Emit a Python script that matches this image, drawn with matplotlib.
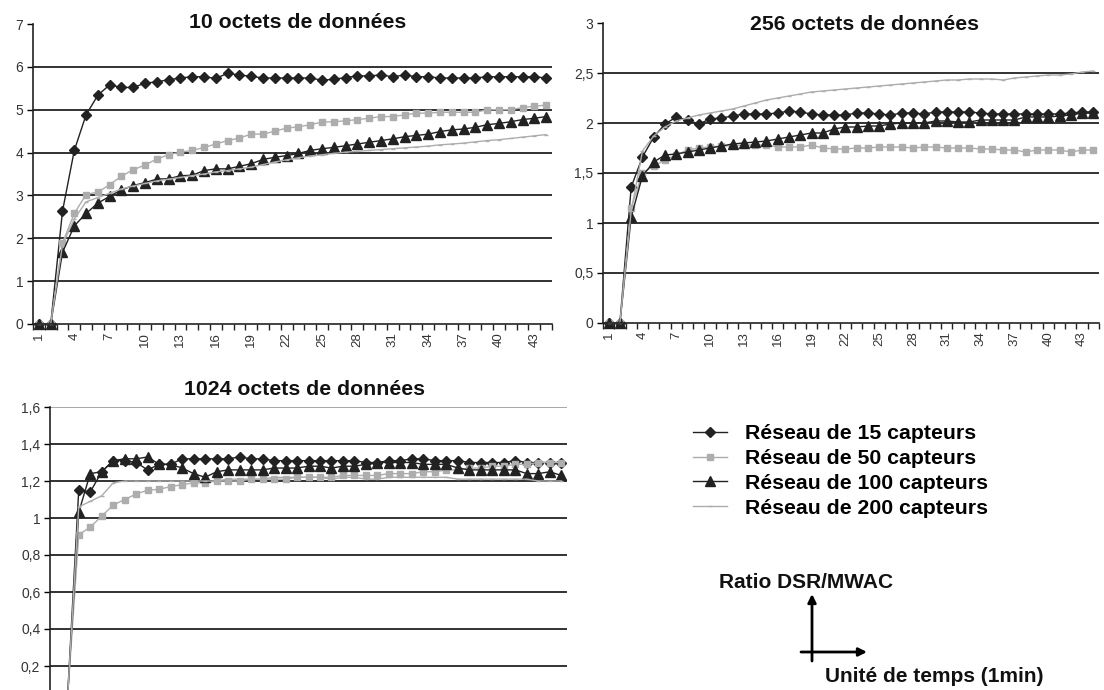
import matplotlib
matplotlib.use("Agg")
import matplotlib.pyplot as plt
from matplotlib.lines import Line2D
from matplotlib.ticker import FuncFormatter, FixedLocator

plt.rcParams["font.family"] = ["Liberation Sans", "DejaVu Sans"]

# series labels
labels = ["Réseau de 15 capteurs", "Réseau de 50 capteurs",
          "Réseau de 100 capteurs", "Réseau de 200 capteurs"]

# 10 octets de données (44 minutes)
s15_10 = [0, 0, 2.63, 4.05, 4.88, 5.34, 5.58, 5.52, 5.52, 5.62, 5.65, 5.70, 5.74, 5.77, 5.77,
          5.73, 5.85, 5.81, 5.78, 5.74, 5.74, 5.74, 5.74, 5.74, 5.69, 5.71, 5.75, 5.79, 5.79, 5.81,
          5.77, 5.81, 5.77, 5.77, 5.74, 5.74, 5.74, 5.74, 5.77, 5.77, 5.77, 5.77, 5.77, 5.74]
s50_10 = [0, 0, 1.89, 2.58, 3.02, 3.08, 3.25, 3.45, 3.60, 3.71, 3.85, 3.95, 4.01, 4.05, 4.12,
          4.20, 4.28, 4.34, 4.43, 4.43, 4.50, 4.57, 4.60, 4.65, 4.71, 4.72, 4.74, 4.77, 4.80, 4.84,
          4.84, 4.88, 4.92, 4.92, 4.94, 4.94, 4.94, 4.94, 5.00, 5.00, 5.00, 5.05, 5.08, 5.11]
s100_10 = [0, 0, 1.67, 2.29, 2.58, 2.82, 2.98, 3.13, 3.23, 3.30, 3.38, 3.39, 3.46, 3.47, 3.58,
           3.62, 3.62, 3.68, 3.74, 3.84, 3.89, 3.93, 3.98, 4.05, 4.09, 4.12, 4.16, 4.20, 4.24, 4.28,
           4.32, 4.37, 4.40, 4.43, 4.49, 4.53, 4.55, 4.59, 4.65, 4.68, 4.72, 4.77, 4.80, 4.84]
s200_10 = [0, 0, 1.85, 2.45, 2.85, 2.95, 3.05, 3.15, 3.22, 3.28, 3.34, 3.38, 3.42, 3.46, 3.50,
           3.55, 3.58, 3.62, 3.66, 3.72, 3.78, 3.83, 3.88, 3.92, 3.95, 3.98, 4.01, 4.03, 4.05, 4.07,
           4.09, 4.11, 4.13, 4.15, 4.18, 4.20, 4.22, 4.25, 4.28, 4.30, 4.33, 4.36, 4.39, 4.42]

# 256 octets de données (44 minutes)
s15_256 = [0, 0, 1.36, 1.66, 1.86, 1.99, 2.06, 2.03, 1.99, 2.04, 2.05, 2.07, 2.09, 2.09, 2.09,
           2.10, 2.12, 2.11, 2.09, 2.08, 2.08, 2.08, 2.10, 2.10, 2.09, 2.08, 2.10, 2.10, 2.09, 2.11,
           2.11, 2.11, 2.11, 2.10, 2.09, 2.09, 2.09, 2.09, 2.09, 2.09, 2.09, 2.10, 2.11, 2.11]
s50_256 = [0, 0, 1.15, 1.50, 1.57, 1.63, 1.68, 1.73, 1.75, 1.76, 1.77, 1.77, 1.78, 1.78, 1.78,
           1.76, 1.76, 1.76, 1.78, 1.75, 1.74, 1.74, 1.75, 1.75, 1.76, 1.76, 1.76, 1.75, 1.76, 1.76,
           1.75, 1.75, 1.75, 1.74, 1.74, 1.73, 1.73, 1.71, 1.73, 1.73, 1.73, 1.71, 1.73, 1.73]
s100_256 = [0, 0, 1.06, 1.47, 1.61, 1.68, 1.69, 1.71, 1.73, 1.75, 1.77, 1.79, 1.80, 1.81, 1.82,
            1.84, 1.86, 1.88, 1.90, 1.90, 1.94, 1.96, 1.96, 1.97, 1.97, 1.99, 2.00, 2.00, 2.00, 2.02,
            2.02, 2.01, 2.01, 2.03, 2.03, 2.03, 2.03, 2.06, 2.06, 2.06, 2.07, 2.08, 2.10, 2.10]
s200_256 = [0, 0, 1.12, 1.72, 1.87, 1.96, 2.02, 2.05, 2.08, 2.10, 2.12, 2.14, 2.17, 2.20, 2.23,
            2.25, 2.27, 2.29, 2.31, 2.32, 2.33, 2.34, 2.35, 2.36, 2.37, 2.38, 2.39, 2.40, 2.41, 2.42,
            2.43, 2.43, 2.44, 2.44, 2.44, 2.43, 2.45, 2.46, 2.47, 2.48, 2.48, 2.49, 2.51, 2.52]

# 1024 octets de données (45 minutes)
s15_1024 = [0, 0, 1.15, 1.14, 1.25, 1.31, 1.31, 1.30, 1.26, 1.29, 1.29, 1.32, 1.32, 1.32, 1.32,
            1.32, 1.33, 1.32, 1.32, 1.31, 1.31, 1.31, 1.31, 1.31, 1.31, 1.31, 1.31, 1.30, 1.30, 1.31,
            1.31, 1.32, 1.32, 1.31, 1.31, 1.31, 1.30, 1.30, 1.30, 1.30, 1.31, 1.30, 1.30, 1.30, 1.30]
s50_1024 = [0, 0, 0.91, 0.95, 1.01, 1.07, 1.10, 1.13, 1.15, 1.155, 1.17, 1.18, 1.19, 1.19, 1.20,
            1.20, 1.20, 1.21, 1.21, 1.21, 1.21, 1.22, 1.22, 1.22, 1.22, 1.23, 1.23, 1.23, 1.23, 1.24,
            1.24, 1.24, 1.25, 1.25, 1.26, 1.26, 1.27, 1.27, 1.28, 1.28, 1.29, 1.29, 1.30, 1.30, 1.30]
s100_1024 = [0, 0, 1.03, 1.24, 1.25, 1.31, 1.32, 1.32, 1.33, 1.29, 1.29, 1.27, 1.24, 1.22, 1.25,
             1.26, 1.26, 1.26, 1.26, 1.27, 1.27, 1.27, 1.28, 1.28, 1.27, 1.28, 1.28, 1.29, 1.30, 1.30,
             1.30, 1.30, 1.29, 1.29, 1.29, 1.27, 1.26, 1.26, 1.26, 1.26, 1.26, 1.24, 1.24, 1.25, 1.23]
s200_1024 = [0, 0, 1.06, 1.09, 1.12, 1.19, 1.20, 1.20, 1.20, 1.20, 1.20, 1.20, 1.20, 1.20, 1.20,
             1.21, 1.21, 1.21, 1.21, 1.22, 1.22, 1.22, 1.22, 1.22, 1.21, 1.22, 1.22, 1.21, 1.21, 1.22,
             1.22, 1.22, 1.22, 1.22, 1.22, 1.21, 1.21, 1.21, 1.21, 1.21, 1.21, 1.21, 1.20, 1.20, 1.20]

DARK = "#222222"
LIGHT = "#adadad"
styles = [
    dict(color=DARK, marker="D", markersize=5.5, lw=1.0),
    dict(color=LIGHT, marker="s", markersize=3.8, lw=1.0),
    dict(color=DARK, marker="^", markersize=7, lw=1.0),
    dict(color=LIGHT, marker="_", markersize=3, lw=1.0, markeredgewidth=1),
]

comma = FuncFormatter(lambda v, p: f"{v:g}".replace(".", ","))


def draw_panel(ax, series, ymax, ystep, title_xy, title, xlabels=True):
    n = len(series[0])
    x = list(range(1, n + 1))
    for s, st in zip(series, styles):
        ax.plot(x, s, clip_on=False, **st)
    ax.set_xlim(0.5, n + 0.5)
    ax.set_ylim(0, ymax)
    ticks = [round(i * ystep, 2) for i in range(int(round(ymax / ystep)) + 1)]
    # the bottom panel is cut by the picture edge, so its 0 label is not shown
    ax.set_yticks(ticks if xlabels else ticks[1:])
    ax.yaxis.set_major_formatter(comma)
    for t in ticks[1:-1]:
        ax.axhline(t, color=DARK, lw=1.3, zorder=0)
    ax.set_xticks(list(range(1, n + 1, 3)))
    ax.xaxis.set_minor_locator(FixedLocator([i + 0.5 for i in range(0, n + 1)]))
    ax.tick_params(axis="x", which="major", length=0, labelrotation=90,
                   labelsize=9.5, labelcolor="#333333", pad=6, labelbottom=xlabels)
    ax.tick_params(axis="x", which="minor", length=4, width=1, color=DARK)
    ax.tick_params(axis="y", length=4, width=1, labelsize=10,
                   labelcolor="#333333", pad=3)
    for side in ("top", "right"):
        ax.spines[side].set_visible(False)
    for side in ("left", "bottom"):
        ax.spines[side].set_color(DARK)
        ax.spines[side].set_linewidth(1.2)
    fig.text(title_xy[0] / 1104, 1 - title_xy[1] / 690, title, ha="center",
             va="center", fontsize=15.3, fontweight="bold", color="#111111")


fig = plt.figure(figsize=(11.04, 6.9), dpi=100)

ax1 = fig.add_axes([33 / 1104, 1 - 324 / 690, 519 / 1104, 300 / 690])
draw_panel(ax1, [s15_10, s50_10, s100_10, s200_10], 7, 1, (298, 22),
           "10 octets de données")

ax2 = fig.add_axes([603 / 1104, 1 - 323 / 690, 496 / 1104, 300 / 690])
draw_panel(ax2, [s15_256, s50_256, s100_256, s200_256], 3, 0.5, (865, 24),
           "256 octets de données")

# bottom panel runs past the lower edge of the picture, as in the original
ax3 = fig.add_axes([50 / 1104, 1 - 703 / 690, 517 / 1104, 296 / 690])
draw_panel(ax3, [s15_1024, s50_1024, s100_1024, s200_1024], 1.6, 0.2, (305, 390),
           "1024 octets de données", xlabels=False)
ax3.axhline(1.6, color="#999999", lw=1.2, zorder=0)

handles = [Line2D([], [], **st) for st in styles]
fig.legend(handles, labels, loc="upper left", bbox_to_anchor=(693 / 1104, 1 - 424 / 690),
           frameon=False, handlelength=1.6, handletextpad=0.85, labelspacing=0.28,
           borderpad=0, borderaxespad=0, prop=dict(size=15.3, weight="bold"))

fig.text(719 / 1104, 107 / 690, "Ratio DSR/MWAC", fontsize=15, fontweight="bold",
         va="center", ha="left", color="#111111")
fig.text(825 / 1104, 13 / 690, "Unité de temps (1min)", fontsize=15, fontweight="bold",
         va="center", ha="left", color="#111111")
fig.add_artist(plt.Annotation("", xy=(812, 96), xytext=(812, 29), xycoords="figure pixels",
                              arrowprops=dict(arrowstyle="-|>", color="black", lw=2,
                                              mutation_scale=12, shrinkA=0, shrinkB=0)))
fig.add_artist(plt.Annotation("", xy=(867, 38), xytext=(801, 38), xycoords="figure pixels",
                              arrowprops=dict(arrowstyle="-|>", color="black", lw=2,
                                              mutation_scale=12, shrinkA=0, shrinkB=0)))

fig.savefig("out.png", dpi=100)
